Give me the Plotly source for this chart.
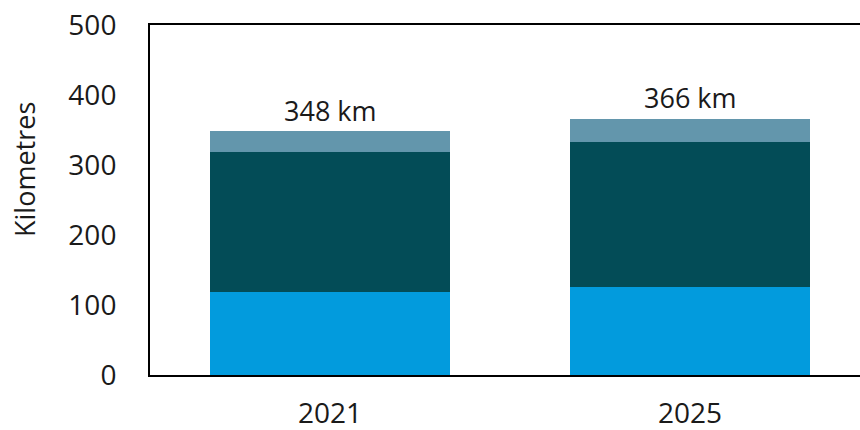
import plotly.graph_objects as go

years = ["2021", "2025"]
seg_bottom = [118, 126]
seg_middle = [200, 207]
seg_top = [30, 33]
totals = [348, 366]
total_labels = ["348 km", "366 km"]
y_ticks = [0, 100, 200, 300, 400, 500]

colors = ["#029BDD", "#034C57", "#6396AC"]
FONT = "Open Sans"
FS = 28

fig = go.Figure()
for vals, col in zip([seg_bottom, seg_middle, seg_top], colors):
    fig.add_trace(go.Bar(x=years, y=vals, marker=dict(color=col, line=dict(width=0)),
                         showlegend=False, hoverinfo="skip"))

for i, (t, lab) in enumerate(zip(totals, total_labels)):
    fig.add_annotation(x=i, y=t, xref="x", yref="y", text=lab, showarrow=False,
                       yanchor="middle", yshift=21,
                       font=dict(family=FONT, size=FS - 1, color="#1a1a1a"))

W_PLOT = 710
H_PLOT = 350
fig.add_annotation(xref="paper", yref="paper", x=(24 - 150) / W_PLOT, y=(375 - 169) / H_PLOT,
                   text="Kilometres", textangle=-90, showarrow=False,
                   xanchor="center", yanchor="middle",
                   font=dict(family=FONT, size=FS - 1, color="#1a1a1a"))

fig.update_layout(
    width=860, height=430,
    margin=dict(l=150, r=0, t=25, b=55),
    barmode="stack", bargap=1/3,
    plot_bgcolor="white", paper_bgcolor="white",
    font=dict(family=FONT, size=FS, color="#1a1a1a"),
)
fig.update_xaxes(type="category", range=[-0.5, 1.5 - 10/360], showline=True, mirror=True,
                 linecolor="black", linewidth=2, ticks="", ticklabelstandoff=12,
                 showgrid=False, tickfont=dict(size=FS), automargin=False)
fig.update_yaxes(range=[0, 500], tickvals=y_ticks, showline=True, linecolor="black", linewidth=2,
                 showgrid=False, zeroline=False, ticks="", ticklabelstandoff=26,
                 tickfont=dict(size=FS), automargin=False)

fig.write_html("out.html")
